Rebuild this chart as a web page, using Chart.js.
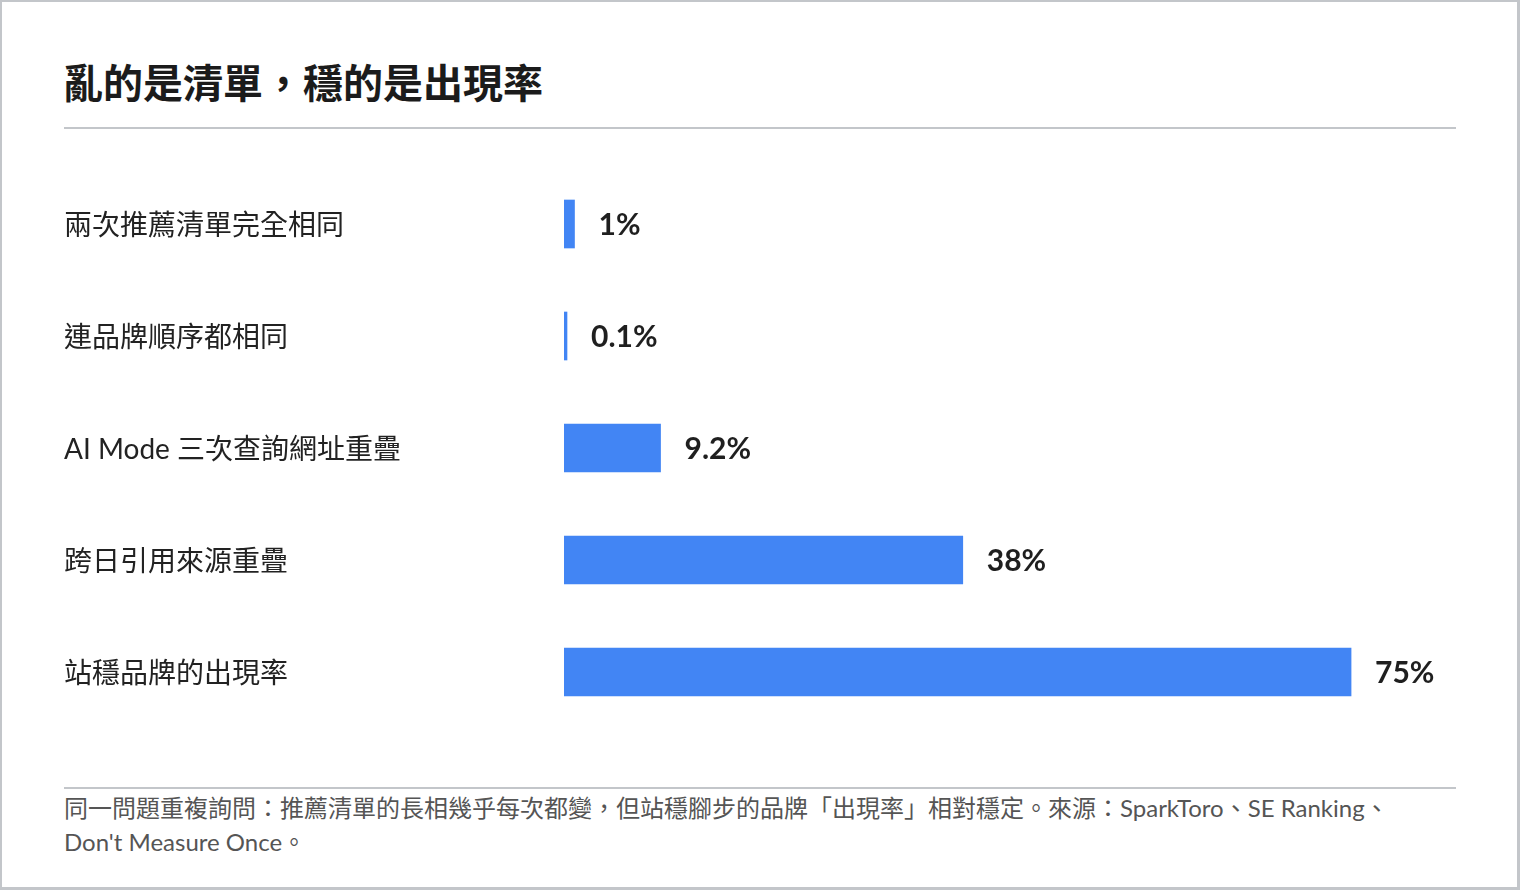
<!DOCTYPE html>
<html lang="zh-Hant">
<head>
<meta charset="utf-8">
<script src="https://cdn.jsdelivr.net/npm/chart.js@4/dist/chart.umd.min.js"></script>
<style>
  html, body { margin: 0; padding: 0; background: #fff; }
  body { width: 1520px; height: 890px; position: relative; overflow: hidden; }
  .frame { position: absolute; left: 0; top: 0; width: 1515px; height: 885px; border: 2px solid #c3c6ca; border-bottom-width: 3px; border-right-width: 3px; background: #fff; }
  .title { position: absolute; left: 61px; top: 50px; font: 700 40px "Lato", "Noto Sans CJK TC", sans-serif; color: #1b1b1b; white-space: nowrap; letter-spacing: 0; }
  .rule { position: absolute; left: 62px; width: 1392px; height: 2px; background: #c3c6ca; }
  .chartbox { position: absolute; left: 62px; top: 166px; width: 1392px; height: 560px; }
  .foot { position: absolute; left: 62px; top: 789px; width: 1420px; font: 400 24px "Lato", "Noto Sans CJK TC", sans-serif; color: #555; line-height: 34px; white-space: nowrap; }
</style>
</head>
<body>
<div class="frame">
  <div class="title" id="title"></div>
  <div class="rule" style="top:125px"></div>
  <div class="chartbox"><canvas id="c"></canvas></div>
  <div class="rule" style="top:785px"></div>
  <div class="foot" id="foot"></div>
</div>
<script>
const titleText = "亂的是清單，穩的是出現率";
const categories = ["兩次推薦清單完全相同", "連品牌順序都相同", "AI Mode 三次查詢網址重疊", "跨日引用來源重疊", "站穩品牌的出現率"];
const values = [1, 0.1, 9.2, 38, 75];
const valueLabels = ["1%", "0.1%", "9.2%", "38%", "75%"];
const footLines = ["同一問題重複詢問：推薦清單的長相幾乎每次都變，但站穩腳步的品牌「出現率」相對穩定。來源：SparkToro、SE Ranking、", "Don't Measure Once。"];

document.getElementById('title').textContent = titleText;
const footEl = document.getElementById('foot');
footLines.forEach(t => { const d = document.createElement('div'); d.textContent = t; footEl.appendChild(d); });

const valueLabelPlugin = {
  id: 'valueLabels',
  afterDatasetsDraw(chart) {
    const ctx = chart.ctx;
    const meta = chart.getDatasetMeta(0);
    ctx.save();
    ctx.font = '700 30px "Lato", "Noto Sans CJK TC", sans-serif';
    ctx.fillStyle = '#1f1f1f';
    ctx.textAlign = 'left';
    ctx.textBaseline = 'middle';
    meta.data.forEach((bar, i) => {
      ctx.fillText(valueLabels[i], bar.x + 24, bar.y + 1);
    });
    ctx.restore();
  }
};

new Chart(document.getElementById('c'), {
  type: 'bar',
  data: {
    labels: categories,
    datasets: [{
      data: values,
      backgroundColor: '#4285f4',
      borderWidth: 0,
      barThickness: 48,
      minBarLength: 3
    }]
  },
  options: {
    indexAxis: 'y',
    responsive: true,
    maintainAspectRatio: false,
    animation: false,
    layout: { padding: 0 },
    plugins: { legend: { display: false }, tooltip: { enabled: false } },
    scales: {
      x: { display: false, min: 0, max: 85 },
      y: {
        grid: { display: false, drawTicks: false },
        border: { display: false },
        ticks: {
          crossAlign: 'far',
          padding: 0,
          labelOffset: 2,
          color: '#222',
          font: { family: '"Lato", "Noto Sans CJK TC", sans-serif', size: 28 }
        },
        afterFit(scale) { scale.width = 500; scale.paddingTop = 0; scale.paddingBottom = 0; }
      }
    }
  },
  plugins: [valueLabelPlugin]
});
</script>
</body>
</html>
